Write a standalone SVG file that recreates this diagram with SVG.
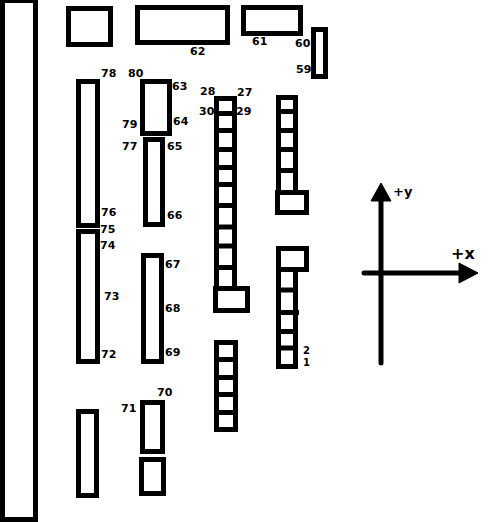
<svg xmlns="http://www.w3.org/2000/svg" width="498" height="522" viewBox="0 0 498 522">
<style>
.b{fill:none;stroke:#000;stroke-width:5}
.r{stroke:#000;stroke-width:5;fill:none}
.a{stroke:#000;stroke-width:5;stroke-linecap:round;fill:none}
.h{fill:#000;stroke:#000;stroke-width:1;stroke-linejoin:round}
text{font-family:"DejaVu Sans",sans-serif;font-weight:700;font-size:11px;fill:#000}
</style>
<rect width="498" height="522" fill="#fff"/>
<g id="frame"><rect class="b" x="2.5" y="0.5" width="33" height="519"/></g>
<g id="box-a"><rect class="b" x="68.5" y="8.5" width="42" height="36"/></g>
<g id="box-62"><rect class="b" x="137.5" y="7.5" width="90" height="35"/><text x="190" y="55">62</text></g>
<g id="box-61"><rect class="b" x="243.5" y="7.5" width="57" height="26"/><text x="252" y="45">61</text></g>
<g id="box-60"><rect class="b" x="313.5" y="29.5" width="12" height="47"/><text x="295" y="47">60</text><text x="296" y="73">59</text></g>
<g id="bar-78"><rect class="b" x="78.5" y="81.5" width="19" height="144"/><text x="101" y="77">78</text><text x="101" y="216">76</text></g>
<g id="bar-74"><rect class="b" x="78.5" y="231.5" width="19" height="130"/><text x="100" y="233">75</text><text x="100" y="249">74</text><text x="104" y="300">73</text><text x="101" y="358">72</text></g>
<g id="box-80"><rect class="b" x="142.5" y="81.5" width="27" height="52"/><text x="128" y="77">80</text><text x="172" y="90">63</text><text x="122" y="128">79</text><text x="173" y="125">64</text></g>
<g id="bar-65"><rect class="b" x="145.5" y="139.5" width="17" height="85"/><text x="122" y="150">77</text><text x="167" y="150">65</text><text x="167" y="219">66</text></g>
<g id="bar-67"><rect class="b" x="143.5" y="255.5" width="18" height="106"/><text x="165" y="268">67</text><text x="165" y="312">68</text><text x="165" y="356">69</text></g>
<g id="bar-low"><rect class="b" x="78.5" y="411.5" width="18" height="84"/></g>
<g id="box-70"><rect class="b" x="142.5" y="402.5" width="20" height="49"/><text x="157" y="396">70</text><text x="121" y="412">71</text></g>
<g id="box-low"><rect class="b" x="141.5" y="459.5" width="22" height="34"/></g>
<g id="ladder-1"><path class="r" d="M216.5 288V98.500H234.500V288M216 113.500H235M216 130.500H235M216 149.500H235M216 167.500H235M216 184.500H235M216 205.500H235M216 227H235M216 246H235M216 267.500H235"/><rect class="b" x="215.500" y="288.500" width="32" height="22"/><text x="200" y="95">28</text><text x="237" y="96">27</text><text x="199" y="115">30</text><text x="236" y="115">29</text></g>
<g id="ladder-2"><path class="r" d="M278.500 192V97.500H295.500V192M278 111.500H296M278 130.500H296M278 149.500H296M278 170.500H296"/><rect class="b" x="277.500" y="192.500" width="29" height="20"/></g>
<g id="ladder-3"><rect class="b" x="278.500" y="248.500" width="28" height="21"/><path class="r" d="M278.500 270V366.500H295.500V270M278 290H296M278 312.500H299M278 331.500H296M278 348H296"/><text x="303" y="353.5" style="font-size:10px">2</text><text x="303" y="365.5" style="font-size:10px">1</text></g>
<g id="ladder-4"><path class="r" d="M216.500 342.500H235.500V429.500H216.500ZM216 359.500H236M216 377.500H236M216 394.500H236M216 412.500H236"/></g>
<g id="connectors">
<line class="a" x1="381" y1="198" x2="381" y2="363"/>
<line class="a" x1="364" y1="273" x2="460" y2="273"/>
<polygon class="h" points="381,183 391,201 371,201"/>
<polygon class="h" points="478,273 459,263 459,283"/>
</g>
<text x="393" y="196" style="font-size:13px">+y</text>
<text x="451" y="259" style="font-size:16px">+x</text>
</svg>
